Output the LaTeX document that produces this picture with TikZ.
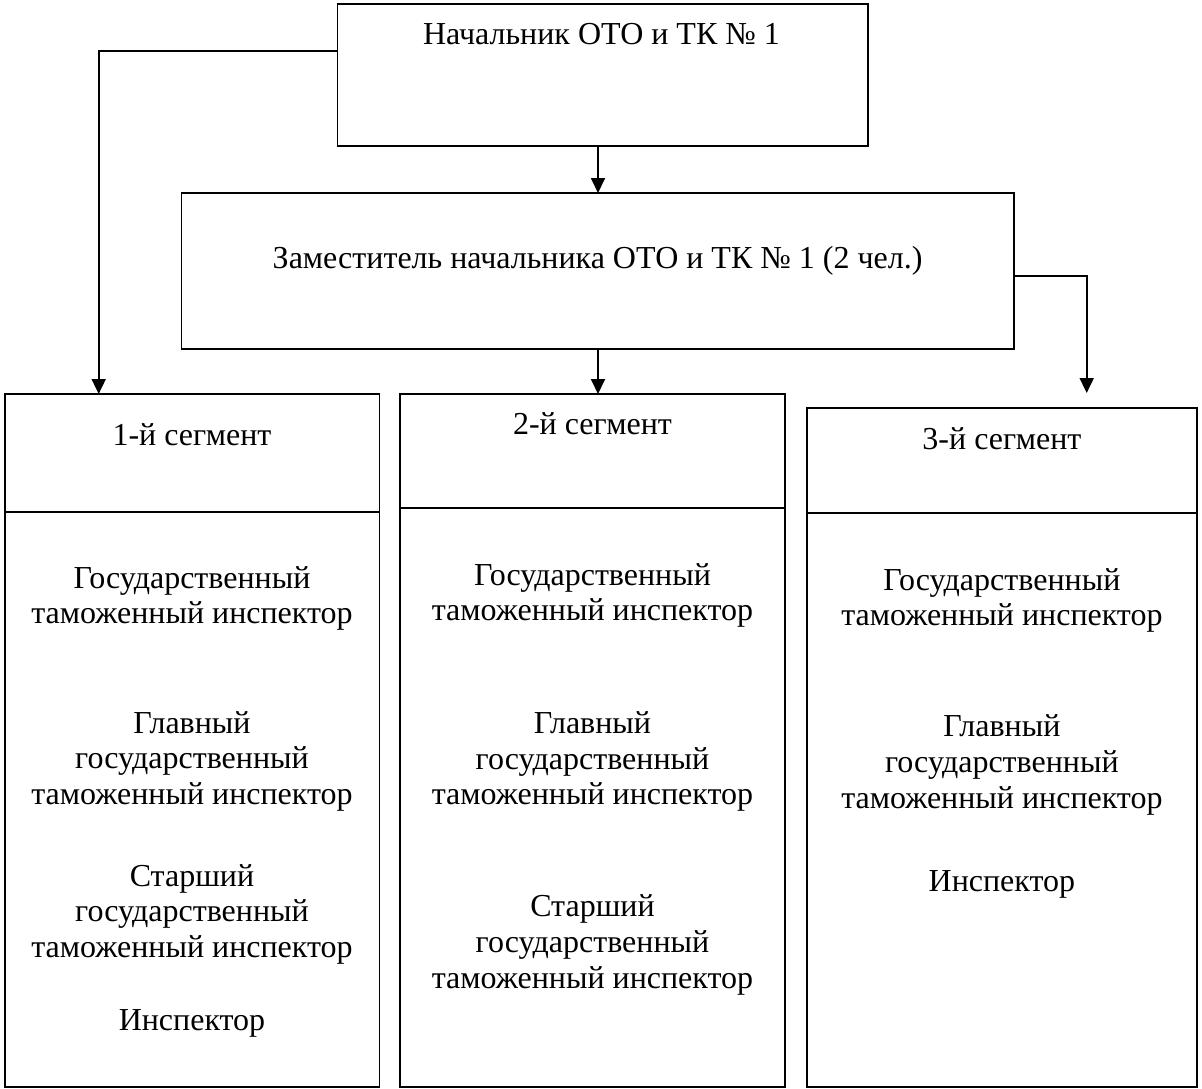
\documentclass[tikz,border=0pt]{standalone}
\usepackage{fontspec}
\setmainfont{Liberation Serif}
\usetikzlibrary{arrows.meta}
\begin{document}
\begin{tikzpicture}[x=1pt,y=-1pt,
  box/.style={draw, line width=1.8pt, inner sep=0pt, outer sep=0pt, anchor=north west},
  lbl/.style={inner sep=0pt, anchor=base, font=\fontsize{32}{35.8}\selectfont},
  conn/.style={line width=1.8pt},
  arr/.style={line width=1.8pt, -{Triangle[length=15pt,width=14pt]}}]
\useasboundingbox (0,0) rectangle (1202,1089);

% boxes
\node[box, minimum width=530.2pt, minimum height=141.7pt] (top) at (337.5,4) {};
\node[box, minimum width=832.3pt, minimum height=156.3pt] (dep) at (181.4,193) {};
\node[box, minimum width=374.9pt, minimum height=692.7pt] (box1) at (4.6,394) {};
\node[box, minimum width=385pt, minimum height=692.7pt] (box2) at (400,394) {};
\node[box, minimum width=390.3pt, minimum height=678.4pt] (box3) at (806.7,408.3) {};

% dividers
\path (box1.north west) ++(0,117.7) coordinate (d1);
\path (box2.north west) ++(0,114.3) coordinate (d2);
\path (box3.north west) ++(0,104.4) coordinate (d3);
\draw[conn] (d1) -- (d1 -| box1.east);
\draw[conn] (d2) -- (d2 -| box2.east);
\draw[conn] (d3) -- (d3 -| box3.east);

% texts
\node[lbl] (ttop) at (601.5,45) {Начальник ОТО и ТК № 1};
\node[lbl] (tdep) at (597.6,268) {Заместитель начальника ОТО и ТК № 1 (2 чел.)};

\node[lbl] (s1) at (192,445) {1-й сегмент};
\node[lbl] (s2) at (592.5,434) {2-й сегмент};
\node[lbl] (s3) at (1001.9,449) {3-й сегмент};

\node[lbl] (b1a) at (192,588) {\begin{tabular}[t]{@{}c@{}}Государственный\\таможенный инспектор\end{tabular}};
\node[lbl] (b1b) at (192,733) {\begin{tabular}[t]{@{}c@{}}Главный\\государственный\\таможенный инспектор\end{tabular}};
\node[lbl] (b1c) at (192,886) {\begin{tabular}[t]{@{}c@{}}Старший\\государственный\\таможенный инспектор\end{tabular}};
\node[lbl] (b1d) at (192,1030.7) {Инспектор};

\node[lbl] (b2a) at (592.5,585) {\begin{tabular}[t]{@{}c@{}}Государственный\\таможенный инспектор\end{tabular}};
\node[lbl] (b2b) at (592.5,733.3) {\begin{tabular}[t]{@{}c@{}}Главный\\государственный\\таможенный инспектор\end{tabular}};
\node[lbl] (b2c) at (592.5,916.7) {\begin{tabular}[t]{@{}c@{}}Старший\\государственный\\таможенный инспектор\end{tabular}};

\node[lbl] (b3a) at (1001.9,590) {\begin{tabular}[t]{@{}c@{}}Государственный\\таможенный инспектор\end{tabular}};
\node[lbl] (b3b) at (1001.9,736.7) {\begin{tabular}[t]{@{}c@{}}Главный\\государственный\\таможенный инспектор\end{tabular}};
\node[lbl] (b3c) at (1001.9,891) {Инспектор};

% connectors
\coordinate (L) at (98.7,50.7);
\coordinate (M) at (598,0);
\coordinate (R) at (1086.7,276);
\coordinate (Rend) at (1086.7,393);
\draw[arr] (L -| top.west) -- (L) -- (L |- box1.north);
\draw[arr] (M |- top.south) -- (M |- dep.north);
\draw[arr] (M |- dep.south) -- (M |- box2.north);
\draw[arr] (R -| dep.east) -- (R) -- (Rend);
\end{tikzpicture}
\end{document}
